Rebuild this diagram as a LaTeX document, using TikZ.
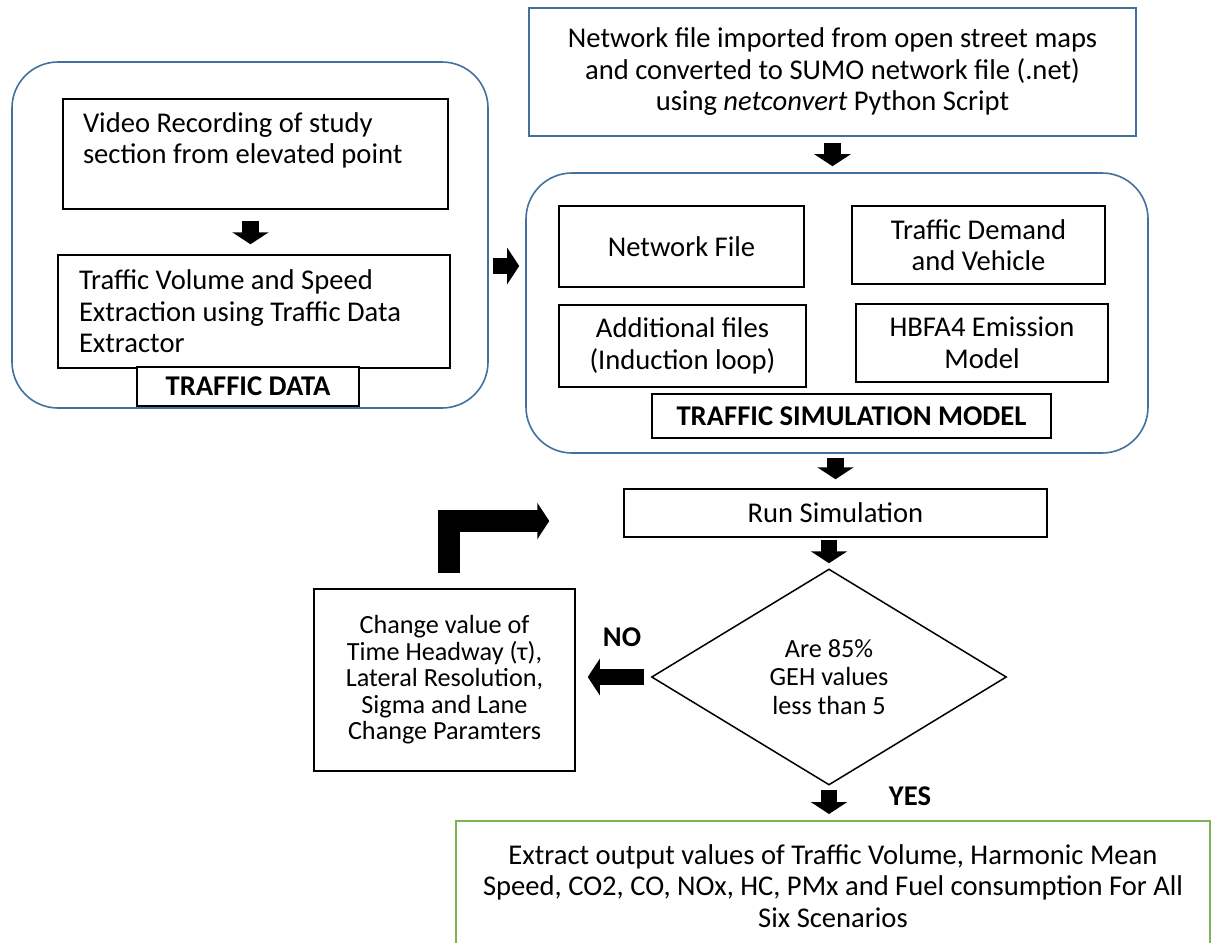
\documentclass[tikz,border=0pt]{standalone}
\usepackage{fontspec}
\setmainfont{Carlito}
\usetikzlibrary{arrows.meta,shapes.geometric}

\definecolor{groupblue}{RGB}{65,113,156}
\definecolor{outgreen}{RGB}{125,178,85}

\begin{document}
\begin{tikzpicture}[x=0.5pt,y=-0.5pt,
    every node/.style={font=\fontsize{14.3}{15.75}\selectfont},
    box/.style={draw,line width=0.75pt,inner sep=0pt,align=center,fill=white},
    group/.style={draw=groupblue,line width=0.8pt,rounded corners=23pt,inner sep=0pt},
    boldtext/.style={font=\fontsize{14.3}{15.75}\selectfont\bfseries},
    decision/.style={diamond,draw,line width=0.75pt,inner sep=0pt,align=center,
        font=\fontsize{13.1}{14.3}\selectfont},
    fat/.style={draw=black,line width=8.25pt,-{Triangle[width=18pt,length=6pt]}}]
    \useasboundingbox (0,0) rectangle (1213,942);

    % the two groups
    \node[group,minimum width=238pt,minimum height=173pt] (datagrp) at (250,235) {};
    \node[group,minimum width=311pt,minimum height=140pt] (simgrp) at (837,313) {};

    % traffic data
    \node[box,align=flush left,text width=172.5pt,inner xsep=10pt,inner ysep=2pt,minimum height=55pt] (video) at (255.5,154)
        {Video Recording of study\\section from elevated point\\\mbox{}};
    \node[box,align=flush left,text width=175pt,inner xsep=10.5pt,inner ysep=2pt,minimum height=56.5pt] (volume) at (254,311.5)
        {Traffic Volume and Speed\\Extraction using Traffic Data\\Extractor};
    \node[box,boldtext,minimum width=111pt,minimum height=19.5pt] (datalbl) at (248,386.5) {TRAFFIC DATA};

    % network import
    \node[box,draw=groupblue,line width=0.9pt,minimum width=303.5pt,minimum height=64pt] (osm) at (832.5,72)
        {Network file imported from open street maps\\and converted to SUMO network file (.net)\\using \textit{netconvert} Python Script};

    % simulation model
    \node[box,minimum width=122.5pt,minimum height=40.5pt] (netfile) at (681.5,246.5) {Network File};
    \node[box,minimum width=126.5pt,minimum height=39pt] (demand) at (978.5,245) {Traffic Demand\\and Vehicle};
    \node[box,minimum width=123.5pt,minimum height=41pt] (addfile) at (682.5,346) {Additional files\\(Induction loop)};
    \node[box,minimum width=126pt,minimum height=39pt] (hbfa) at (982,343) {HBFA4 Emission\\Model};
    \node[box,boldtext,minimum width=199.5pt,minimum height=22pt] (simlbl) at (851.5,416) {TRAFFIC SIMULATION MODEL};

    % calibration loop
    \node[box,minimum width=211.5pt,minimum height=24pt] (run) at (835.5,513) {Run Simulation};
    \node[decision,minimum width=177.5pt,minimum height=108pt] (geh) at (829,677) {Are 85\%\\GEH values\\less than 5};
    \node[box,minimum width=130.5pt,minimum height=91pt,font=\fontsize{13.1}{13.25}\selectfont] (change) at (444.5,680)
        {Change value of\\Time Headway (τ),\\Lateral Resolution,\\Sigma and Lane\\Change Paramters};
    \node[boldtext] (no) at (622,637) {NO};
    \node[boldtext] (yes) at (910,796) {YES};

    % results
    \node[box,draw=outgreen,line width=1pt,minimum width=377pt,minimum height=65pt] (output) at (833,886)
        {Extract output values of Traffic Volume, Harmonic Mean\\Speed, CO2, CO, NOx, HC, PMx and Fuel consumption For All\\Six Scenarios};

    % block arrows
    \draw[fat,shorten <=3pt,shorten >=3pt] (osm.south) -- (osm.south |- simgrp.north);
    \draw[fat,shorten <=5.5pt,shorten >=5pt] ([xshift=-2.5pt]video.south) -- ([xshift=-2.5pt]video.south |- volume.north);
    \draw[fat,shorten <=2pt,shorten >=3pt] ([yshift=-15.5pt]datagrp.east) -- ([yshift=-15.5pt]datagrp.east -| simgrp.west);
    \draw[fat,shorten <=2pt,shorten >=4.5pt] (run.north |- simgrp.south) -- (run.north);
    \draw[fat,shorten <=1pt,shorten >=2.5pt] (geh.north |- run.south) -- (geh.north);
    \draw[fat,shorten <=3.5pt,shorten >=6pt] (geh.west) -- (geh.west -| change.east);
    \draw[fat,shorten <=2pt,shorten >=3pt] (geh.south) -- (geh.south |- output.north);
    \draw[fat,line width=11pt,line join=miter,shorten <=7.5pt,shorten >=37pt]
        ([xshift=2.25pt]change.north) |- ([yshift=-4pt]run.west);
\end{tikzpicture}
\end{document}
